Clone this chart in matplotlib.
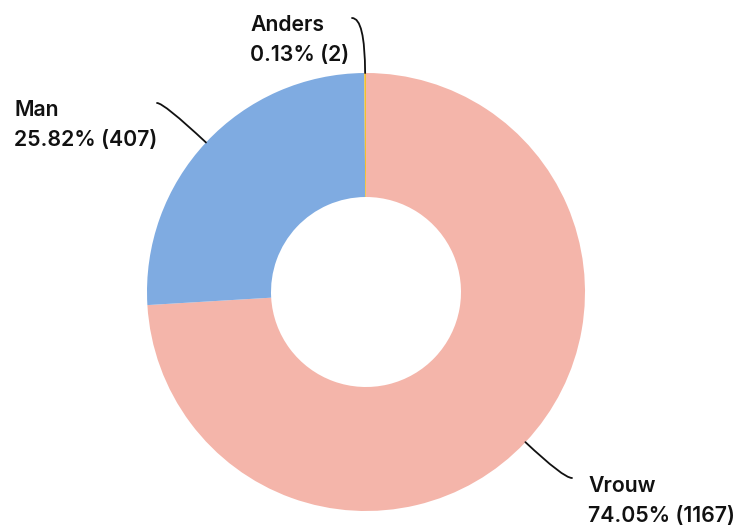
import numpy as np
import matplotlib
matplotlib.use('Agg')
import matplotlib.pyplot as plt

# data
labels = ['Vrouw', 'Man', 'Anders']
counts = [1167, 407, 2]
percents = ['74.05%', '25.82%', '0.13%']
colors = ['#F4B5AA', '#7FABE1', '#F2C12E']

plt.rcParams['font.family'] = ['Inter', 'DejaVu Sans']

W, H = 738, 529
fig = plt.figure(figsize=(W / 100, H / 100), dpi=100)
ax = fig.add_axes([0, 0, 1, 1])

cx, cy = 366, H - 292
r_out, r_in = 219, 95

wedges, _ = ax.pie(counts, colors=colors, startangle=90, counterclock=False,
                   center=(cx, cy), radius=r_out,
                   wedgeprops=dict(width=r_out - r_in, linewidth=0))
ax.set_xlim(0, W)
ax.set_ylim(0, H)
ax.set_aspect('equal')
ax.axis('off')

# label positions (text top-left) and connector end points, in pixels from top
text_pos = [(588, 476), (14, 100), (250, 15)]
line_end = [(572, 478), (157, 103), (352, 18)]

for w, lab, n, p, tp, le in zip(wedges, labels, counts, percents, text_pos, line_end):
    mid = (w.theta1 + w.theta2) / 2
    px = cx + r_out * np.cos(np.radians(mid))
    py = cy + r_out * np.sin(np.radians(mid))
    ax.annotate('', xy=(px, py), xytext=(le[0], H - le[1]),
                arrowprops=dict(arrowstyle='-', color='#111111', lw=1.3,
                                shrinkA=0, shrinkB=0,
                                connectionstyle=f'angle3,angleA=0,angleB={mid:.1f}'))
    ax.text(tp[0], H - tp[1], f'{lab}\n{p} ({n})', ha='left', va='top',
            fontsize=15.3, fontweight='semibold', color='#111111', linespacing=1.6)

fig.savefig('out.png', dpi=100)
